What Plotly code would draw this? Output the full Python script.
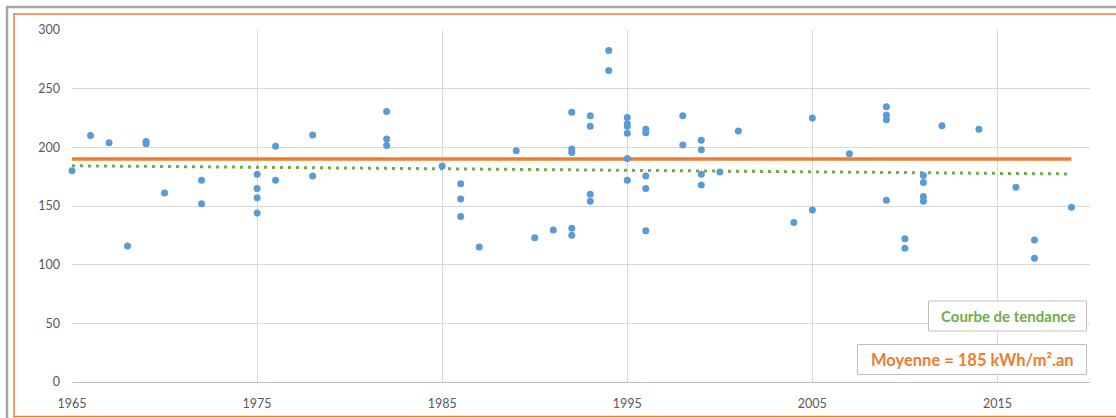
import plotly.graph_objects as go

# ---- data ----
years = [1965, 1966, 1967, 1968, 1969, 1969, 1970, 1972, 1972,
         1975, 1975, 1975, 1975, 1976, 1976, 1978, 1978,
         1982, 1982, 1982, 1985, 1986, 1986, 1986, 1987, 1989, 1990, 1991,
         1992, 1992, 1992, 1992, 1992, 1993, 1993, 1993, 1993, 1994, 1994,
         1995, 1995, 1995, 1995, 1995, 1995, 1996, 1996, 1996, 1996, 1996,
         1998, 1998, 1999, 1999, 1999, 1999, 2000, 2001, 2004, 2005, 2005,
         2007, 2009, 2009, 2009, 2009, 2010, 2010, 2011, 2011, 2011, 2011,
         2012, 2014, 2016, 2017, 2017, 2019]
values = [180, 210, 204, 116, 205, 203, 161, 172, 152,
          177, 165, 157, 144, 201, 172, 210.5, 175.5,
          230.5, 207, 201.5, 184, 169, 156, 141, 115, 197, 123, 129.5,
          230, 198.5, 195.5, 131, 125, 227, 218, 160, 154, 282.5, 265.5,
          225.5, 220, 218, 212, 190.5, 172, 215.5, 212.5, 175.5, 165, 129,
          227, 202, 206, 198, 177, 168, 179, 214, 136, 225, 146.5,
          194.5, 234.5, 227.5, 223.5, 155, 122, 114, 176, 170, 158, 154,
          218.5, 215.5, 166, 121, 105.5, 149]

mean_x = [1965, 2019]
mean_y = [190, 190]
trend_x = [1965, 2019]
trend_y = [184.3, 177.3]

label_trend = "Courbe de tendance"
label_mean = "Moyenne = 185 kWh/m².an"

BLUE = "#5B9BD5"
ORANGE = "#ED7D31"
GREEN = "#70AD47"
GRID = "#D9D9D9"
FONT = "Lato"

W, H = 1116, 418
L, R, T, B = 72, 26, 30, 36
PW, PH = W - L - R, H - T - B


def xp(px):
    return (px - L) / PW


def yp(py):
    return (H - B - py) / PH


fig = go.Figure()
fig.add_trace(go.Scatter(x=mean_x, y=mean_y, mode="lines",
                         line=dict(color=ORANGE, width=3.5), hoverinfo="skip"))
fig.add_trace(go.Scatter(x=trend_x, y=trend_y, mode="lines",
                         line=dict(color=GREEN, width=3, dash="3px,5px"), hoverinfo="skip"))
fig.add_trace(go.Scatter(x=years, y=values, mode="markers", cliponaxis=False,
                         marker=dict(color=BLUE, size=7, line=dict(width=0))))

shapes = [
    # outer gray frame (top + left)
    dict(type="line", xref="paper", yref="paper", x0=xp(6), x1=xp(W + 5), y0=yp(7), y1=yp(7),
         line=dict(color="#A6A6A6", width=2.5)),
    dict(type="line", xref="paper", yref="paper", x0=xp(7), x1=xp(7), y0=yp(6), y1=yp(H + 5),
         line=dict(color="#A6A6A6", width=2.5)),
    # orange frame
    dict(type="line", xref="paper", yref="paper", x0=xp(13.3), x1=xp(W + 5), y0=yp(14), y1=yp(14),
         line=dict(color=ORANGE, width=1.5)),
    dict(type="line", xref="paper", yref="paper", x0=xp(14), x1=xp(14), y0=yp(13.3), y1=yp(417.2),
         line=dict(color=ORANGE, width=1.5)),
    dict(type="line", xref="paper", yref="paper", x0=xp(13.3), x1=xp(W + 5), y0=yp(416.5), y1=yp(416.5),
         line=dict(color=ORANGE, width=1.5)),
    # label boxes
    dict(type="rect", xref="paper", yref="paper", x0=xp(928.5), x1=xp(1086.5), y0=yp(301), y1=yp(331),
         line=dict(color="#BFBFBF", width=1), fillcolor="white"),
    dict(type="rect", xref="paper", yref="paper", x0=xp(857.5), x1=xp(1086.5), y0=yp(344.5), y1=yp(374.5),
         line=dict(color="#BFBFBF", width=1), fillcolor="white"),
]

annotations = [
    dict(xref="paper", yref="paper", x=xp(1007.5), y=yp(316), text="<b>" + label_trend + "</b>",
         showarrow=False, font=dict(family=FONT, size=15, color=GREEN), xanchor="center", yanchor="middle"),
    dict(xref="paper", yref="paper", x=xp(972), y=yp(359.5), text="<b>" + label_mean + "</b>",
         showarrow=False, font=dict(family=FONT, size=16.5, color=ORANGE), xanchor="center", yanchor="middle"),
]

fig.update_layout(
    width=W, height=H,
    margin=dict(l=L, r=R, t=T, b=B, autoexpand=False),
    paper_bgcolor="white", plot_bgcolor="white",
    showlegend=False,
    shapes=shapes,
    annotations=annotations,
    font=dict(family=FONT, size=12, color="#595959"),
)
fig.update_xaxes(range=[1965, 2020], tick0=1965, dtick=10, showgrid=True, gridcolor=GRID, gridwidth=1,
                 zeroline=False, showline=True, linecolor="#BFBFBF", linewidth=1, ticks="",
                 automargin=False,
                 ticklabelstandoff=10, tickfont=dict(family=FONT, size=12.5, color="#595959"))
fig.update_yaxes(range=[0, 300], tick0=0, dtick=50, showgrid=True, gridcolor=GRID, gridwidth=1,
                 zeroline=False, showline=False, ticks="", ticklabelstandoff=11, automargin=False,
                 tickfont=dict(family=FONT, size=12.5, color="#595959"))

fig.write_html("out.html", config={"displayModeBar": False},
               post_script="document.body.style.margin='0px';document.body.style.overflow='hidden';")
